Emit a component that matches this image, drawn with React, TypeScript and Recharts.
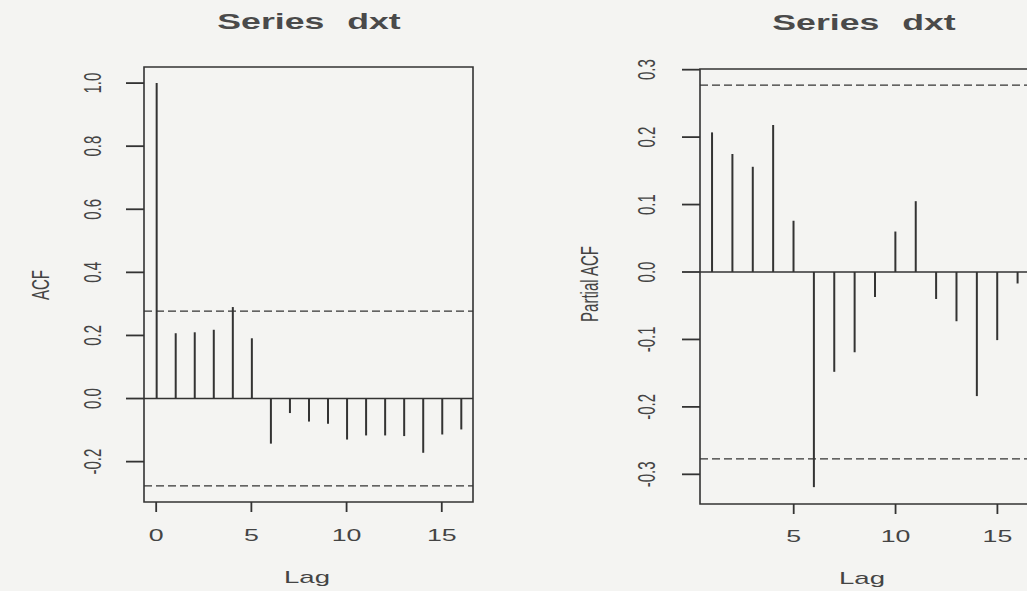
import React from "react";
import { BarChart, Bar, XAxis, YAxis, ReferenceLine, ReferenceArea } from "recharts";

// Sample autocorrelations of dxt (lag 0..16) and partial autocorrelations (lag 1..16)
const acfLags = [0, 1, 2, 3, 4, 5, 6, 7, 8, 9, 10, 11, 12, 13, 14, 15, 16];
const acfValues = [
  1.0, 0.207, 0.21, 0.218, 0.29, 0.191, -0.143, -0.046, -0.073, -0.08, -0.13, -0.117, -0.117, -0.119,
  -0.172, -0.114, -0.098,
];
const pacfLags = [1, 2, 3, 4, 5, 6, 7, 8, 9, 10, 11, 12, 13, 14, 15, 16];
const pacfValues = [
  0.207, 0.175, 0.156, 0.218, 0.076, -0.319, -0.148, -0.119, -0.037, 0.06, 0.105, -0.04, -0.073, -0.184,
  -0.101, -0.017,
];
// 1.96 / sqrt(n), n = 50
const confLimit = 0.277;

const acfXTicks = [0, 5, 10, 15];
const acfYTicks = [-0.2, 0, 0.2, 0.4, 0.6, 0.8, 1.0];
const pacfXTicks = [5, 10, 15];
const pacfYTicks = [-0.3, -0.2, -0.1, 0, 0.1, 0.2, 0.3];

const INK = "#333";
const TEXT = "#444";
const PAPER = "#f4f4f2";
const FONT = "'Liberation Sans', Arial, sans-serif";
// the old device output is stretched sideways; text gets the same squash
const STRETCH = 1.62;
const HEIGHT = 591;

type PanelProps = {
  lags: number[];
  values: number[];
  xTicks: number[];
  yTicks: number[];
  xDomain: [number, number];
  yDomain: [number, number];
  left: number;
  width: number;
  margin: { top: number; right: number; left: number; bottom: number };
  yAxisWidth: number;
  xAxisHeight: number;
  yLabelX: number;
  xLabelY: number;
};

function LagPanel(p: PanelProps) {
  const data = p.lags.map((lag, i) => ({ lag, value: p.values[i] }));
  const plotLeft = p.margin.left + p.yAxisWidth;
  const plotBottom = HEIGHT - p.margin.bottom - p.xAxisHeight;

  // tick marks are drawn here together with their labels
  const yTick = (props: any) => (
    <g>
      <path d={`M${plotLeft - 18},${props.y}H${plotLeft}`} stroke={INK} strokeWidth={1.8} fill="none" />
      <text
        transform={`translate(${p.yLabelX},${props.y}) scale(${STRETCH},1) rotate(-90)`}
        textAnchor="middle"
        dominantBaseline="central"
        fontSize={15}
        fontFamily={FONT}
        fill={TEXT}
      >
        {Number(props.payload.value).toFixed(1)}
      </text>
    </g>
  );

  const xTick = (props: any) => (
    <g>
      <path d={`M${props.x},${plotBottom}V${plotBottom + 10}`} stroke={INK} strokeWidth={1.8} fill="none" />
      <text
        transform={`translate(${props.x},${p.xLabelY}) scale(${STRETCH},1)`}
        textAnchor="middle"
        dominantBaseline="central"
        fontSize={16.5}
        fontFamily={FONT}
        fill={TEXT}
      >
        {props.payload.value}
      </text>
    </g>
  );

  return (
    <div style={{ position: "absolute", left: p.left, top: 0 }}>
      <BarChart width={p.width} height={HEIGHT} data={data} margin={p.margin} barSize={2}>
        <XAxis
          dataKey="lag"
          type="number"
          domain={p.xDomain}
          ticks={p.xTicks}
          allowDataOverflow
          axisLine={false}
          tickLine={false}
          tick={xTick}
          height={p.xAxisHeight}
        />
        <YAxis
          type="number"
          domain={p.yDomain}
          ticks={p.yTicks}
          allowDataOverflow
          axisLine={false}
          tickLine={false}
          tick={yTick}
          width={p.yAxisWidth}
        />
        <ReferenceLine y={0} stroke={INK} strokeWidth={1.5} />
        <ReferenceLine y={confLimit} stroke={INK} strokeWidth={1.3} strokeDasharray="8 4" />
        <ReferenceLine y={-confLimit} stroke={INK} strokeWidth={1.3} strokeDasharray="8 4" />
        <Bar dataKey="value" fill={INK} isAnimationActive={false} />
        <ReferenceArea
          x1={p.xDomain[0]}
          x2={p.xDomain[1]}
          y1={p.yDomain[0]}
          y2={p.yDomain[1]}
          fill="none"
          stroke={INK}
          strokeWidth={1.6}
          fillOpacity={0}
        />
      </BarChart>
    </div>
  );
}

function Caption({ x, y, text, size, bold, rotate }: { x: number; y: number; text: string; size: number; bold?: boolean; rotate?: boolean }) {
  return (
    <text
      transform={`translate(${x},${y}) scale(${STRETCH},1)${rotate ? " rotate(-90)" : ""}`}
      textAnchor="middle"
      dominantBaseline="central"
      fontSize={size}
      fontWeight={bold ? 700 : 400}
      fontFamily={FONT}
      fill={bold ? "#4a4a4a" : TEXT}
      wordSpacing={bold ? 8 : 0}
    >
      {text}
    </text>
  );
}

export default function App() {
  return (
    <div
      style={{
        position: "absolute",
        left: 0,
        top: 0,
        width: 1027,
        height: HEIGHT,
        overflow: "hidden",
        background: PAPER,
      }}
    >
      <LagPanel
        lags={acfLags}
        values={acfValues}
        xTicks={acfXTicks}
        yTicks={acfYTicks}
        xDomain={[-0.64, 16.64]}
        yDomain={[-0.328, 1.051]}
        left={0}
        width={500}
        margin={{ top: 67, right: 27, left: 44, bottom: 0 }}
        yAxisWidth={100}
        xAxisHeight={89}
        yLabelX={93}
        xLabelY={535}
      />
      <LagPanel
        lags={pacfLags}
        values={pacfValues}
        xTicks={pacfXTicks}
        yTicks={pacfYTicks}
        xDomain={[0.4, 16.6]}
        yDomain={[-0.344, 0.301]}
        left={540}
        width={540}
        margin={{ top: 69, right: 50, left: 60, bottom: 0 }}
        yAxisWidth={100}
        xAxisHeight={87}
        yLabelX={107}
        xLabelY={536}
      />
      <svg width={1027} height={HEIGHT} style={{ position: "absolute", left: 0, top: 0, pointerEvents: "none" }}>
        <Caption x={309} y={21} text="Series dxt" size={22} bold />
        <Caption x={864} y={22} text="Series dxt" size={22} bold />
        <Caption x={41} y={285} text="ACF" size={15} rotate />
        <Caption x={590} y={284} text="Partial ACF" size={15} rotate />
        <Caption x={307} y={577} text="Lag" size={17} />
        <Caption x={862} y={578} text="Lag" size={17} />
      </svg>
    </div>
  );
}
